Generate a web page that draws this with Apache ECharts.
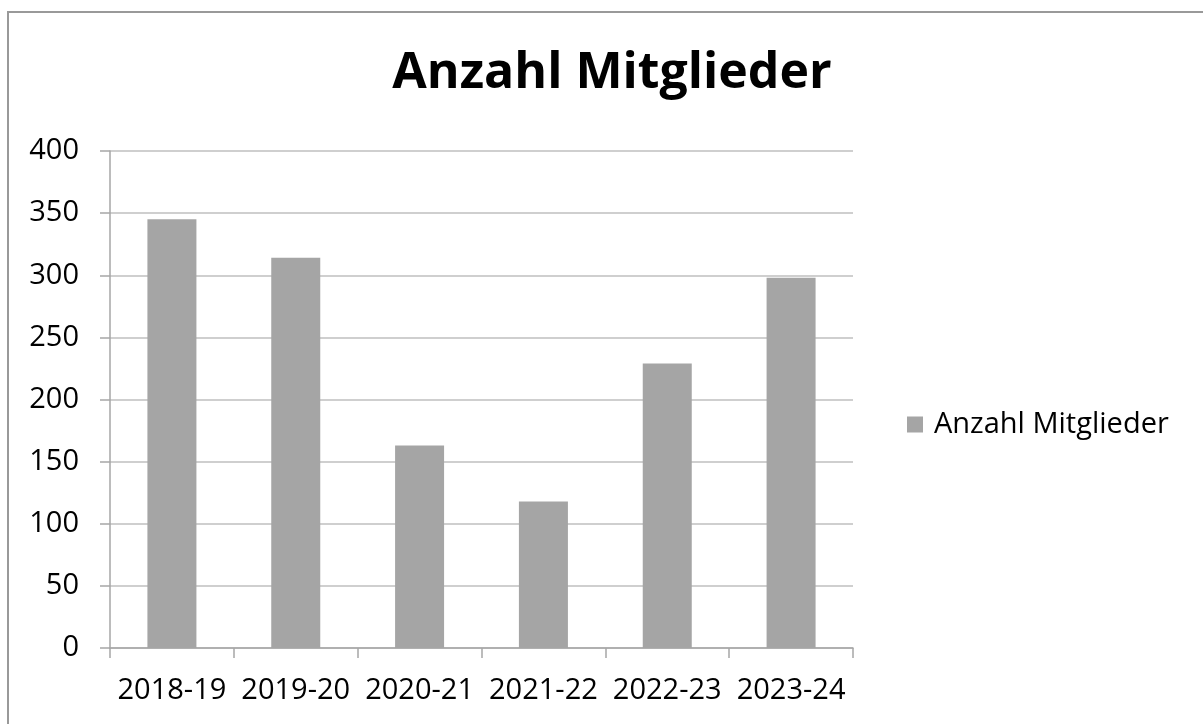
<!DOCTYPE html>
<html>
<head>
<meta charset="utf-8">
<script src="https://cdn.jsdelivr.net/npm/echarts@6/dist/echarts.min.js"></script>
<style>
html, body { margin: 0; padding: 0; background: #fff; }
#frame {
  position: absolute; left: 7px; top: 11px; width: 1300px; height: 800px;
  border-left: 2px solid #999; border-top: 2px solid #999;
}
#main { position: absolute; left: 0; top: 0; width: 1203px; height: 724px; }
</style>
</head>
<body>
<div id="frame"></div>
<div id="main"></div>
<script>
// Daten
var seasons = ['2018-19', '2019-20', '2020-21', '2021-22', '2022-23', '2023-24']
var members = [345, 314, 163, 118, 229, 298]
var seriesName = 'Anzahl Mitglieder'

var font = '"Open Sans", "Noto Sans", sans-serif'
var chart = echarts.init(document.getElementById('main'))
chart.setOption({
  animation: false,
  backgroundColor: 'transparent',
  title: {
    text: 'Anzahl Mitglieder',
    left: 607,
    textAlign: 'center',
    top: 44,
    textStyle: { fontFamily: font, fontWeight: 'bold', fontSize: 50, color: '#000' }
  },
  legend: {
    orient: 'vertical',
    left: 902,
    top: 405,
    itemWidth: 16,
    itemHeight: 16,
    icon: 'rect',
    data: [seriesName],
    textStyle: { fontFamily: font, fontSize: 29, color: '#000', padding: [0, 0, 0, 6] }
  },
  grid: { left: 110, right: 350, top: 151, bottom: 76 },
  xAxis: {
    type: 'category',
    data: seasons,
    axisLine: { lineStyle: { color: '#a6a6a6', width: 1.5 } },
    axisTick: { show: true, length: 10, lineStyle: { color: '#a6a6a6', width: 1.5 } },
    axisLabel: { interval: 0, fontFamily: font, fontSize: 29, color: '#000', margin: 28 }
  },
  yAxis: {
    type: 'value',
    min: 0,
    max: 400,
    interval: 50,
    axisLine: { show: true, lineStyle: { color: '#a6a6a6', width: 1.5 } },
    axisTick: { show: true, length: 10, lineStyle: { color: '#a6a6a6', width: 1.5 } },
    splitLine: { lineStyle: { color: '#bfbfbf', width: 1.5 } },
    axisLabel: { fontFamily: font, fontSize: 29, color: '#000', margin: 31 }
  },
  series: [{
    name: seriesName,
    type: 'bar',
    barWidth: 49,
    itemStyle: { color: '#a5a5a5' },
    data: members
  }]
})
</script>
</body>
</html>
